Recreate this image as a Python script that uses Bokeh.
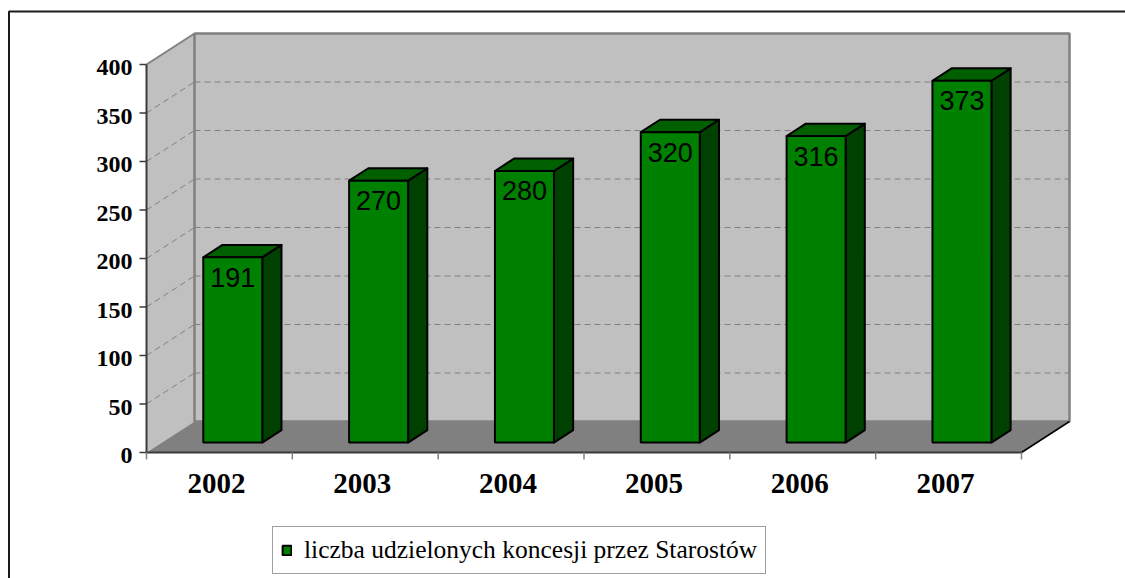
from bokeh.plotting import figure
from bokeh.models import Range1d, ColumnDataSource, Legend, LegendItem
from bokeh.core.properties import value
from bokeh.embed import file_html
from bokeh.resources import INLINE

# ---------------- data ----------------
years = ["2002", "2003", "2004", "2005", "2006", "2007"]
counts = [191, 270, 280, 320, 316, 373]
value_labels = ["191", "270", "280", "320", "316", "373"]
y_ticks = [0, 50, 100, 150, 200, 250, 300, 350, 400]
y_tick_labels = ["0", "50", "100", "150", "200", "250", "300", "350", "400"]
series_name = "liczba udzielonych koncesji przez Starostów"

# ---------------- layout (pixels) ----------------
W, H = 1125, 578
X0, X1 = 146, 1021          # front floor edge, left/right
Y0, YTOP = 452, 64          # value 0 and value 400 on the front plane
VMAX = 400
N = len(years)
UNIT_X = (X1 - X0) / N      # px per category
PX_V = (Y0 - YTOP) / VMAX   # px per value unit
DXU = 48 / UNIT_X           # depth offset (full depth) in x units
DYV = 31 / PX_V             # depth offset (full depth) in value units
TF, TB = 0.32, 0.72         # bar front/back depth fraction
HW = 29.5 / UNIT_X          # bar half width
BAR_SHIFT = -2 / UNIT_X


def proj(u, v, t):
    return u + t * DXU, v + t * DYV


def px2u(px):
    return (px - X0) / UNIT_X


def py2v(py):
    return (Y0 - py) / PX_V


p = figure(width=W, height=H,
           x_range=Range1d(px2u(0), px2u(W)),
           y_range=Range1d(py2v(H), py2v(0)),
           x_axis_type=None, y_axis_type=None,
           toolbar_location=None, output_backend="svg",
           min_border=0, background_fill_color="white",
           border_fill_color="white")
p.outline_line_color = None
p.grid.visible = False

GRID = "#808080"

# outer frame (left + top edges visible)
p.line(x=[px2u(8.5), px2u(8.5), px2u(W + 5)],
       y=[py2v(H + 5), py2v(11), py2v(11)],
       line_color="#1a1a1a", line_width=2)

# side wall
sw = [proj(0, 0, 0), proj(0, VMAX, 0), proj(0, VMAX, 1), proj(0, 0, 1)]
p.patch(x=[a for a, b in sw], y=[b for a, b in sw], fill_color="#c0c0c0", line_color=None)

# floor
fl = [proj(0, 0, 0), proj(N, 0, 0), proj(N, 0, 1), proj(0, 0, 1)]
p.patch(x=[a for a, b in fl], y=[b for a, b in fl], fill_color="#808080", line_color=None)

# back wall
bw = [proj(0, 0, 1), proj(N, 0, 1), proj(N, VMAX, 1), proj(0, VMAX, 1)]
p.patch(x=[a for a, b in bw], y=[b for a, b in bw], fill_color="#c0c0c0",
        line_color=GRID, line_width=2.5)

# gridlines
for v in y_ticks[1:-1]:
    a = proj(0, v, 1)
    b = proj(N, v, 1)
    p.line(x=[a[0], b[0]], y=[a[1], b[1]], line_color=GRID, line_width=1, line_dash="6 4")
    c = proj(0, v, 0)
    p.line(x=[c[0], a[0]], y=[c[1], a[1]], line_color=GRID, line_width=1, line_dash="6 4")

# side wall top edge
a, b = proj(0, VMAX, 0), proj(0, VMAX, 1)
p.line(x=[a[0], b[0]], y=[a[1], b[1]], line_color=GRID, line_width=2)
# floor right edge
a, b = proj(N, 0, 0), proj(N, 0, 1)
p.line(x=[a[0], b[0]], y=[a[1], b[1]], line_color="black", line_width=1.5)

# front axes
AX = "#3a3a3a"
p.line(x=[0, 0], y=[0, VMAX], line_color=AX, line_width=2)
p.line(x=[0, N], y=[0, 0], line_color=AX, line_width=2)
tick_u = 7 / UNIT_X
tick_v = 7 / PX_V
p.segment(x0=[-tick_u] * len(y_ticks), y0=y_ticks, x1=[0] * len(y_ticks), y1=y_ticks,
          line_color=AX, line_width=1.5)
p.segment(x0=list(range(N + 1)), y0=[0] * (N + 1), x1=list(range(N + 1)), y1=[-tick_v] * (N + 1),
          line_color=GRID, line_width=1.5)

# y tick labels
p.text(x=[px2u(132)] * len(y_ticks), y=y_ticks, text=y_tick_labels,
       text_align="right", text_baseline="middle", y_offset=3,
       text_font=value("Liberation Serif"), text_font_style="bold",
       text_font_size="24px", text_color="black")

# x category labels
p.text(x=[i + 0.5 - 3 / UNIT_X for i in range(N)], y=[py2v(483)] * N, text=years,
       text_align="center", text_baseline="middle",
       text_font=value("Liberation Serif"), text_font_style="bold",
       text_font_size="29px", text_color="black")

# bars
centers = [i + 0.5 + BAR_SHIFT for i in range(N)]
fx = [proj(c, 0, TF)[0] for c in centers]
fbottom = proj(0, 0, TF)[1]
ftop = [proj(0, v, TF)[1] for v in counts]

side_xs, side_ys, top_xs, top_ys = [], [], [], []
for c, v in zip(centers, counts):
    r = c + HW
    l = c - HW
    pts = [proj(r, 0, TF), proj(r, 0, TB), proj(r, v, TB), proj(r, v, TF)]
    side_xs.append([q[0] for q in pts]); side_ys.append([q[1] for q in pts])
    pts = [proj(l, v, TF), proj(r, v, TF), proj(r, v, TB), proj(l, v, TB)]
    top_xs.append([q[0] for q in pts]); top_ys.append([q[1] for q in pts])

p.patches(xs=side_xs, ys=side_ys, fill_color="#004000", line_color="black", line_width=2,
          line_join="round")
p.patches(xs=top_xs, ys=top_ys, fill_color="#006000", line_color="black", line_width=2,
          line_join="round")
src = ColumnDataSource(dict(x=fx, top=ftop, lab=value_labels))
front = p.vbar(x="x", top="top", bottom=fbottom, width=2 * HW, source=src,
               fill_color="#008000", line_color="black", line_width=2)

p.text(x="x", y="top", text="lab", source=src, text_align="center",
       text_baseline="middle", y_offset=20,
       text_font=value("Liberation Sans"), text_font_size="27px", text_color="black")

legend = Legend(items=[LegendItem(label=series_name, renderers=[front])],
                location=(272, 4), orientation="horizontal",
                border_line_color="#404040", border_line_width=1,
                background_fill_color="white", background_fill_alpha=1,
                label_text_font="Liberation Serif", label_text_font_size="25.5px",
                label_text_color="black",
                glyph_width=11, glyph_height=12, label_standoff=12,
                padding=8, margin=0, spacing=0)
p.add_layout(legend)

open("out.html", "w").write(file_html(p, INLINE))
